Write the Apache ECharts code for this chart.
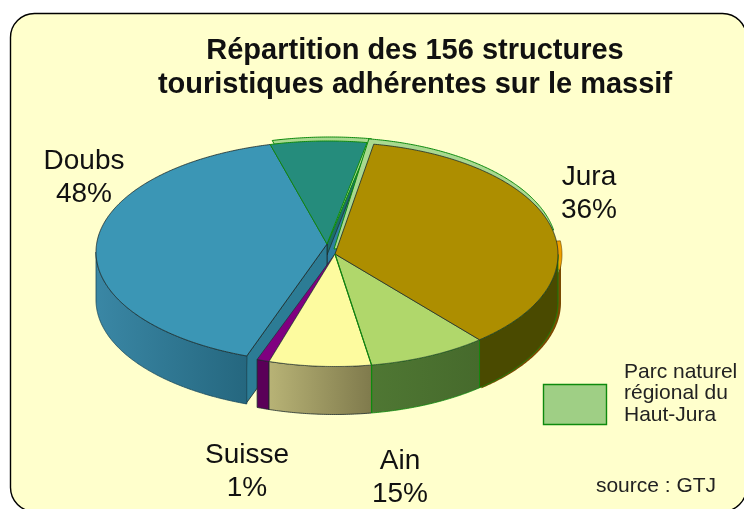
<!DOCTYPE html>
<html>
<head>
<meta charset="utf-8">
<style>html,body{margin:0;padding:0;background:#fff}#c{width:744px;height:509px}</style>
<script src="https://cdn.jsdelivr.net/npm/echarts@6/dist/echarts.min.js"></script>
</head>
<body>
<div id="c"></div>
<script>
// Slice shares, in percent of the full circle
const juraGroupNames = ['Jura (parc)', 'Ain (parc)', 'Ain', 'Suisse'];
const juraGroupShares = [36, 8.6, 7.4, 0.9];
const doubsGroupNames = ['Doubs', 'Doubs (parc)'];
const doubsGroupShares = [40.3, 6.7];

const titleLines = ['Répartition des 156 structures', 'touristiques adhérentes sur le massif'];
const sliceLabels = [
  ['Doubs', '48%'], ['Jura', '36%'], ['Suisse', '1%'], ['Ain', '15%']
];
const legendLines = ['Parc naturel', 'régional du', 'Haut-Jura'];
const sourceText = 'source : GTJ';

// styles and geometry
const topColors = { 'Jura (parc)': '#ad8e00', 'Ain (parc)': '#b0d76b', 'Ain': '#fdfb9f', 'Suisse': '#800080', 'Doubs': '#3b96b5', 'Doubs (parc)': '#258c7c' };
const wallColors = {
  'Jura (parc)': ['#4a4a00', '#4a4a00'], 'Ain (parc)': ['#4f7733', '#466a2c'],
  'Ain': ['#b8b376', '#7f7a4c'], 'Suisse': ['#5a0058', '#5a0058'],
  'Doubs': ['#3a87a5', '#25677f']
};
const GREEN = '#0d8a0d', DARK = '#1c2a2a', FRINGE = '#a9d98f';
const DEPTH = 48;
const juraDisc = { cx: 335, cy: 254.5, ax: 335, ay: 254, rx: 223, ry: 112, start: 280 };
const doubsDisc = { cx: 328, cy: 252, ax: 327, ay: 244, rx: 232, ry: 111, start: 110.5 };

function rimPoint(d, t, dx, dy) {
  const r = t * Math.PI / 180;
  return [d.cx + d.rx * Math.cos(r) + (dx || 0), d.cy + d.ry * Math.sin(r) + (dy || 0)];
}
function arc(d, a, b, dx, dy) {
  const pts = [], n = Math.max(2, Math.ceil(Math.abs(b - a) * 2));
  for (let i = 0; i <= n; i++) pts.push(rimPoint(d, a + (b - a) * i / n, dx, dy));
  return pts;
}
function wedge(d, a, b, dx, dy) {
  return [[d.ax + (dx || 0), d.ay + (dy || 0)]].concat(arc(d, a, b, dx, dy));
}
function poly(points, fill, stroke, lw) {
  return { type: 'polygon', shape: { points }, style: { fill, stroke: stroke || 'none', lineWidth: lw === undefined ? 1 : lw, lineJoin: 'round' } };
}
function grad(c) {
  return new echarts.graphic.LinearGradient(0, 0, 1, 0, [{ offset: 0, color: c[0] }, { offset: 1, color: c[1] }]);
}
function wall(d, a, b, c, stroke) {
  const top = arc(d, a, b), bot = arc(d, b, a, 0, DEPTH);
  return poly(top.concat(bot), grad(c), stroke || 'none', 0.8);
}
function radial(d, t, color, stroke) {
  const p = rimPoint(d, t);
  return poly([[d.ax, d.ay], p, [p[0] - 1, p[1] + DEPTH], [d.ax, d.ay + DEPTH]], color, stroke || DARK, 0.8);
}
function spans(d, shares) {
  let a = d.start;
  return shares.map(s => { const b = a + s * 3.6; const r = [a, b]; a = b; return r; });
}

// Each row draws one part of the pie, back to front.
const juraSpans = spans(juraDisc, juraGroupShares);
const doubsSpans = spans(doubsDisc, doubsGroupShares);
const [jA, jB] = juraSpans[0], [aA, aB] = juraSpans[1], [yA, yB] = juraSpans[2], [sA, sB] = juraSpans[3];
const [dA, dB] = doubsSpans[0], [tA, tB] = doubsSpans[1];

const painters = [
  // Doubs: radial walls, rim wall, top
  () => {
    const p = rimPoint(doubsDisc, tB), a = [doubsDisc.ax, doubsDisc.ay];
    const tealWall = [a, p, [p[0], p[1] + 11], [a[0], a[1] + 11]];
    return [radial(doubsDisc, tB, '#2f7fa0'), poly(tealWall, '#1c6f68', DARK, 0.7)];
  },
  () => [radial(doubsDisc, dA, '#2c7c95')],
  () => [wall(doubsDisc, dA, 180, wallColors['Doubs'], '#1b4a5c')],
  // park outline sitting just above the back of the pie
  () => [poly(wedge(doubsDisc, tA, tB + 0.6, 2, -4), FRINGE, GREEN, 1)],
  () => [poly(wedge(doubsDisc, dA, tA), topColors['Doubs'], DARK, 0.8)],
  () => [poly(wedge(doubsDisc, tA, tB), topColors['Doubs (parc)'], GREEN, 1)],
  // orange rest of Jura peeking out at the right
  () => [poly(arc(juraDisc, 0, 50, 3, 0).concat(arc(juraDisc, 50, 0, 3, DEPTH)), '#7a4a00'),
         poly(wedge(juraDisc, -7, 8, 4, 0), '#f0a000', '#5a4000', 0.6)],
  () => [poly(wedge(juraDisc, jA - 1, 350, -1, -5), FRINGE, GREEN, 1)],
  // Jura group: walls then tops
  () => [wall(juraDisc, sA, sB, wallColors['Suisse'], DARK)],
  () => [wall(juraDisc, yA, yB, wallColors['Ain'], DARK)],
  () => [wall(juraDisc, aA, aB, wallColors['Ain (parc)'], GREEN)],
  () => [wall(juraDisc, 360, jB, wallColors['Jura (parc)'], GREEN)],
  () => [poly(wedge(juraDisc, sA, sB), topColors['Suisse'], DARK, 0.6)],
  () => [poly(wedge(juraDisc, yA, yB), topColors['Ain'], DARK, 0.6)],
  () => [poly(wedge(juraDisc, aA, aB), topColors['Ain (parc)'], DARK, 0.6)],
  () => [poly(wedge(juraDisc, jA, jB), topColors['Jura (parc)'], DARK, 0.8)],
  // green boundary of the park between Ain parts
  () => {
    const p = rimPoint(juraDisc, aB);
    return [{ type: 'polyline', shape: { points: [[juraDisc.ax, juraDisc.ay], p, [p[0], p[1] + DEPTH]] }, style: { stroke: GREEN, lineWidth: 1.2, fill: 'none' } }];
  }
];

function text(t, x, y, size, opts) {
  return { type: 'text', x, y, style: Object.assign({ text: t, fontFamily: '"Liberation Sans", Arial, sans-serif', fontSize: size, fill: '#111', align: 'center', verticalAlign: 'middle' }, opts || {}) };
}

const labelPos = [[84, 177], [589, 193], [247, 471], [400, 477]];
const graphics = [
  { type: 'rect', z: 0, shape: { x: 10.5, y: 13.5, width: 736, height: 498, r: 24 }, style: { fill: '#ffffcc', stroke: '#000', lineWidth: 1.4 } },
  { type: 'rect', z: 5, shape: { x: 543.5, y: 384.5, width: 63, height: 40 }, style: { fill: '#9fcf85', stroke: GREEN, lineWidth: 1.4 } }
];
sliceLabels.forEach((l, i) => {
  graphics.push(text(l[0], labelPos[i][0], labelPos[i][1] - 16, 28));
  graphics.push(text(l[1], labelPos[i][0], labelPos[i][1] + 17, 28));
});
legendLines.forEach((l, i) => graphics.push(text(l, 624, 372 + i * 21.5, 21, { align: 'left', fill: '#222' })));
graphics.push(text(sourceText, 656, 486, 21, { fill: '#222' }));
graphics.forEach(g => { if (g.type === 'text') g.z = 6; });

const chart = echarts.init(document.getElementById('c'), null, { renderer: 'canvas' });
chart.setOption({
  animation: false,
  backgroundColor: '#fff',
  title: {
    text: titleLines.join('\n'), left: 410, top: 29, textAlign: 'center',
    textStyle: { fontFamily: '"Liberation Sans", Arial, sans-serif', fontWeight: 'bold', fontSize: 29, lineHeight: 34, color: '#111' }
  },
  graphic: graphics,
  series: [{
    type: 'custom',
    coordinateSystem: 'none',
    z: 3,
    silent: true,
    data: painters.map((_, i) => i),
    renderItem: (params) => ({ type: 'group', children: painters[params.dataIndex]() })
  }]
});
</script>
</body>
</html>
